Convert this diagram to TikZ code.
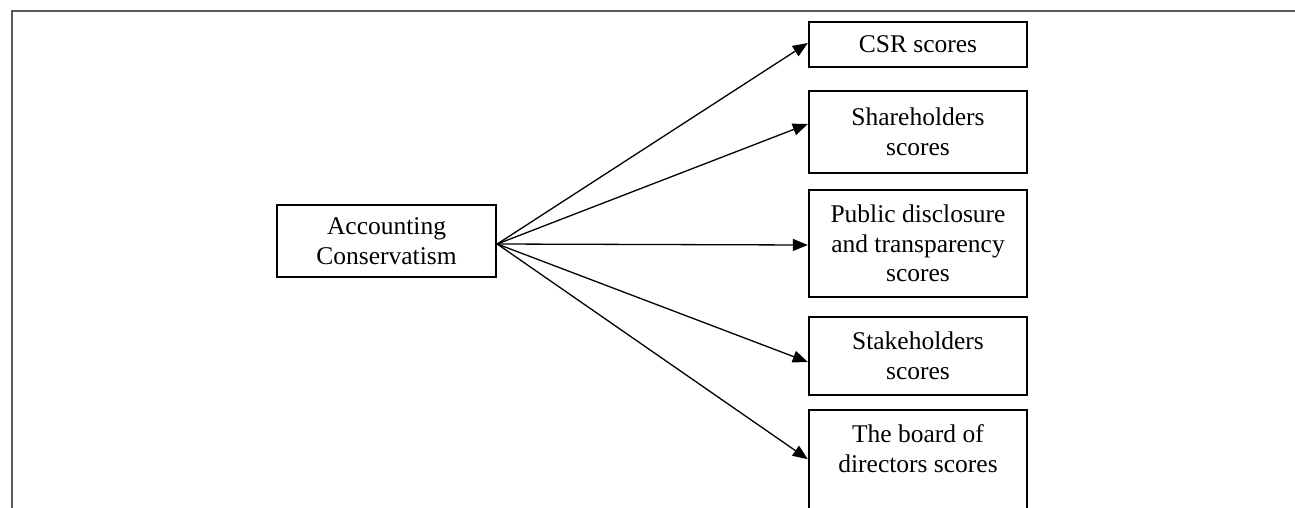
\documentclass[tikz,border=0pt]{standalone}
\usepackage{fontspec}
\setmainfont{Liberation Serif}
\usetikzlibrary{arrows.meta}
\begin{document}
\begin{tikzpicture}[x=1pt,y=-1pt,
  box/.style={draw=black,line width=2.4pt,inner sep=0pt,minimum width=218pt,align=center,
    font=\fontsize{25.5}{29.5}\selectfont},
  link/.style={draw=black,line width=1.3pt,-{Triangle[length=15pt,width=12pt]}},
  frameline/.style={draw=black!65,line width=2.2pt}]
\useasboundingbox (0,0) rectangle (1295,507);
\clip (0,0) rectangle (1295,507);
\fill[white] (0,0) rectangle (1295,507);
\draw[frameline] (1300,11) -- (12,11) -- (12,520);
\node[box,minimum width=219pt,minimum height=72pt] (acc) at (386.5,241) {Accounting\\Conservatism};
\node[box,minimum height=45pt] (csr) at (918,44.5) {CSR scores};
\node[box,minimum height=82pt] (sh) at (918,132) {Shareholders\\scores};
\node[box,minimum height=107pt] (pub) at (918,243.5) {Public disclosure\\and transparency\\scores};
\node[box,minimum height=78pt] (stk) at (918,356) {Stakeholders\\scores};
\node[box,minimum height=112pt,anchor=north] (brd) at (918,409) {\strut The board of\\directors scores\\\strut};
\draw[link] ([yshift=-3pt]acc.east) -- ([yshift=1.5pt]csr.west);
\draw[link] ([yshift=-3pt]acc.east) -- ([yshift=8pt]sh.west);
\draw[link] ([yshift=-3pt]acc.east) -- ([yshift=-1.5pt]pub.west);
\draw[link] ([yshift=-3pt]acc.east) -- ([yshift=-6pt]stk.west);
\draw[link] ([yshift=-3pt]acc.east) -- ([yshift=7pt]brd.west);
\end{tikzpicture}
\end{document}
